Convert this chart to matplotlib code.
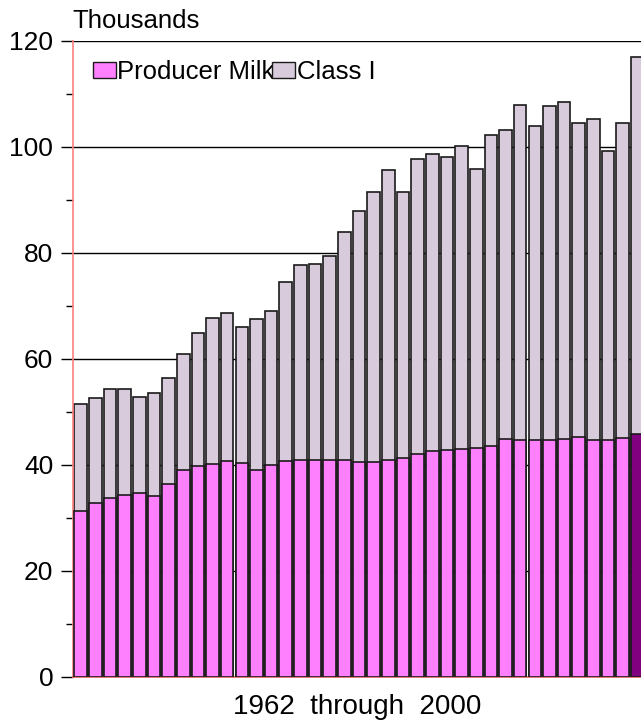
import matplotlib
matplotlib.use("Agg")
import matplotlib.pyplot as plt
from matplotlib.patches import Patch
from matplotlib.ticker import MultipleLocator

plt.rcParams['font.family'] = ['Liberation Sans', 'DejaVu Sans']

years = list(range(1962, 2001))

# Class I (thousands) - full bar height
class_i = [51.5, 52.7, 54.3, 54.3, 52.9, 53.6, 56.4, 60.9, 65.0, 67.7,
           68.6, 66.1, 67.6, 69.1, 74.5, 77.8, 78.0, 79.4, 84.0, 87.9,
           91.6, 95.7, 91.6, 97.7, 98.7, 98.2, 100.1, 95.8, 102.3, 103.2,
           107.9, 104.0, 107.7, 108.5, 104.5, 105.2, 99.2, 104.5, 116.9]

# Producer milk (thousands) - lower bar
producer_milk = [31.4, 32.8, 33.8, 34.4, 34.7, 34.2, 36.4, 39.0, 39.9, 40.1,
                 40.8, 40.3, 39.1, 40.0, 40.8, 41.0, 41.0, 40.9, 40.9, 40.6,
                 40.6, 40.9, 41.4, 42.0, 42.6, 42.8, 43.0, 43.3, 43.6, 44.9,
                 44.8, 44.7, 44.8, 44.9, 45.3, 44.8, 44.8, 45.1, 45.8]

MAGENTA = '#FF80FF'
PURPLE = '#800080'
LILAC = '#D8CCDC'
EDGE = '#1a1a1a'

fig = plt.figure(figsize=(6.41, 7.25), dpi=100)
ax = fig.add_axes([72.7 / 641, 1 - 677 / 725, 1 - 72.7 / 641, (677 - 41) / 725])

x = list(range(len(years)))
width = 0.86
ax.bar(x, class_i, width=width, color=LILAC, edgecolor=EDGE, linewidth=1.2, zorder=2)
pm_colors = [MAGENTA] * (len(years) - 1) + [PURPLE]
ax.bar(x, producer_milk, width=width, color=pm_colors, edgecolor=EDGE, linewidth=1.2, zorder=3)

ax.set_xlim(-0.546, 38.25)
ax.set_ylim(0, 120)
ax.yaxis.set_major_locator(MultipleLocator(20))
ax.yaxis.set_minor_locator(MultipleLocator(10))
ax.set_xticks([])
ax.grid(axis='y', which='major', color='black', linewidth=1.0, zorder=0)
ax.set_axisbelow(True)
ax.tick_params(axis='y', which='major', length=9, width=1, color='black',
               labelsize=19, pad=5)
ax.tick_params(axis='y', which='minor', length=5, width=1, color='black')

for side in ('top', 'right'):
    ax.spines[side].set_visible(False)
ax.spines['left'].set_color('#FF8080')
ax.spines['bottom'].set_color('#E06060')
ax.spines['left'].set_linewidth(1.2)
ax.spines['bottom'].set_linewidth(1.2)

handles = [Patch(facecolor=MAGENTA, edgecolor=EDGE, linewidth=1.0),
           Patch(facecolor=LILAC, edgecolor=EDGE, linewidth=1.0)]
ax.legend(handles, ['Producer Milk', 'Class I'], loc='center left',
          bbox_to_anchor=(0.0357, (677 - 72) / 636), ncol=2, frameon=False,
          fontsize=18.5, handlelength=0.9, handleheight=0.55,
          handletextpad=0.05, columnspacing=-0.1,
          borderaxespad=0.0, borderpad=0.0)

fig.text(72.7 / 641, 1 - 21 / 725, 'Thousands', fontsize=18.5, ha='left', va='center')
fig.text(357 / 641, 1 - 707 / 725, '1962  through  2000', fontsize=20,
         ha='center', va='center')

fig.savefig('out.png', dpi=100)
